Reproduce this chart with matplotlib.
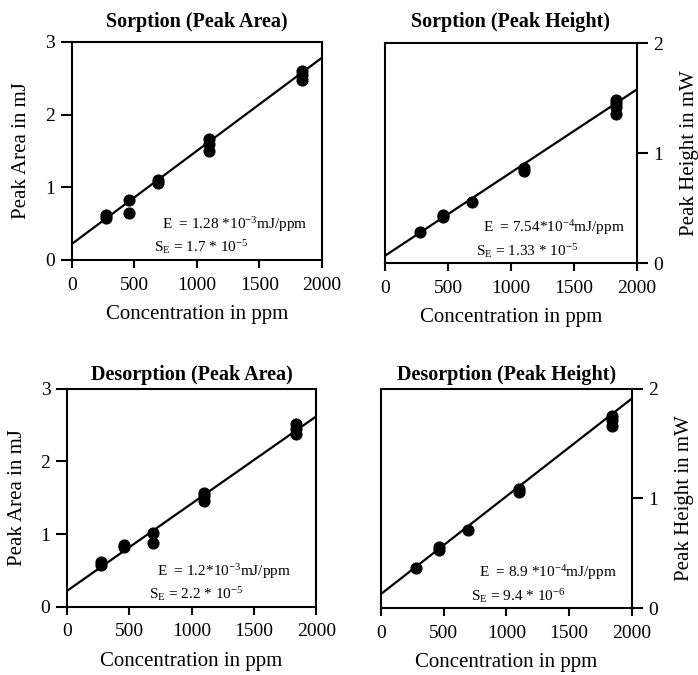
import numpy as np
import matplotlib
matplotlib.use("Agg")
import matplotlib.pyplot as plt

plt.rcParams['font.family'] = ['Liberation Serif', 'DejaVu Serif']
plt.rcParams['mathtext.fontset'] = 'custom'
plt.rcParams['mathtext.rm'] = 'Liberation Serif'
plt.rcParams['mathtext.it'] = 'Liberation Serif'

sorp_area_x = [275, 275, 460, 460, 690, 690, 1100, 1100, 1100, 1840, 1840, 1840]
sorp_area_y = [0.58, 0.62, 0.82, 0.65, 1.06, 1.10, 1.50, 1.60, 1.67, 2.48, 2.55, 2.60]

sorp_height_x = [275, 460, 460, 690, 1100, 1100, 1840, 1840, 1840, 1840]
sorp_height_y = [0.28, 0.42, 0.44, 0.56, 0.84, 0.87, 1.36, 1.42, 1.46, 1.48]

desorp_area_x = [275, 275, 460, 460, 690, 690, 1100, 1100, 1100, 1840, 1840, 1840]
desorp_area_y = [0.57, 0.62, 0.82, 0.85, 0.88, 1.02, 1.45, 1.52, 1.57, 2.38, 2.45, 2.52]

desorp_height_x = [275, 460, 460, 690, 1100, 1100, 1840, 1840, 1840]
desorp_height_y = [0.37, 0.53, 0.56, 0.71, 1.06, 1.09, 1.66, 1.72, 1.75]

# regression lines: intercept, slope
sorp_area_fit = (0.22, 1.28e-3)
sorp_height_fit = (0.07, 7.54e-4)
desorp_area_fit = (0.22, 1.2e-3)
desorp_height_fit = (0.13, 8.9e-4)

titles = ["Sorption (Peak Area)", "Sorption (Peak Height)",
          "Desorption (Peak Area)", "Desorption (Peak Height)"]
annot_e = [r"E  = 1.28 *10$^{\mathregular{-3}}$mJ/ppm",
           r"E  = 7.54*10$^{\mathregular{-4}}$mJ/ppm",
           r"E  = 1.2*10$^{\mathregular{-3}}$mJ/ppm",
           r"E  = 8.9 *10$^{\mathregular{-4}}$mJ/ppm"]
annot_s = [r"S$_{\mathregular{E}}$ = 1.7 * 10$^{\mathregular{-5}}$",
           r"S$_{\mathregular{E}}$ = 1.33 * 10$^{\mathregular{-5}}$",
           r"S$_{\mathregular{E}}$ = 2.2 * 10$^{\mathregular{-5}}$",
           r"S$_{\mathregular{E}}$ = 9.4 * 10$^{\mathregular{-6}}$"]

panels = [
    (sorp_area_x, sorp_area_y, sorp_area_fit, [0.103, 0.615, 0.358, 0.323], 'left', 11),
    (sorp_height_x, sorp_height_y, sorp_height_fit, [0.552, 0.610, 0.360, 0.326], 'right', 12),
    (desorp_area_x, desorp_area_y, desorp_area_fit, [0.096, 0.101, 0.357, 0.323], 'left', 6),
    (desorp_height_x, desorp_height_y, desorp_height_fit, [0.546, 0.099, 0.359, 0.325], 'right', 6),
]

fig = plt.figure(figsize=(6.98, 6.75), dpi=100)

for i, (xs, ys, fit, pos, side, tpad) in enumerate(panels):
    ax = fig.add_axes(pos)
    b, m = fit
    lx = np.array([0, 2000])
    ax.plot(lx, b + m * lx, color='black', lw=1.6, zorder=2)
    ax.scatter(xs, ys, s=60, color='black', zorder=3, clip_on=False)

    ax.set_xlim(0, 2000)
    ax.set_xticks([0, 500, 1000, 1500, 2000])
    ax.set_xlabel("Concentration in ppm", fontsize=15, labelpad=8)
    ax.set_title(titles[i], fontsize=14.5, fontweight='bold', pad=tpad)

    if side == 'left':
        ax.set_ylim(0, 3)
        ax.set_yticks([0, 1, 2, 3])
        ax.set_ylabel("Peak Area in mJ", fontsize=15, labelpad=10)
        tx = 0.33
    else:
        ax.set_ylim(0, 2)
        ax.set_yticks([0, 1, 2])
        ax.yaxis.tick_right()
        ax.yaxis.set_label_position('right')
        ax.set_ylabel("Peak Height in mW", fontsize=15, labelpad=12)
        tx = 0.36

    ax.tick_params(axis='x', direction='out', length=6, width=1.5,
                   labelsize=14, pad=6)
    ax.tick_params(axis='y', direction='out', length=8, width=1.5,
                   labelsize=14, pad=4)
    for sp in ax.spines.values():
        sp.set_linewidth(1.5)

    ax.text(tx + 0.03, 0.14, annot_e[i], transform=ax.transAxes,
            fontsize=11, va='baseline')
    ax.text(tx, 0.035, annot_s[i], transform=ax.transAxes,
            fontsize=11, va='baseline')

fig.savefig("out.png", dpi=100)
